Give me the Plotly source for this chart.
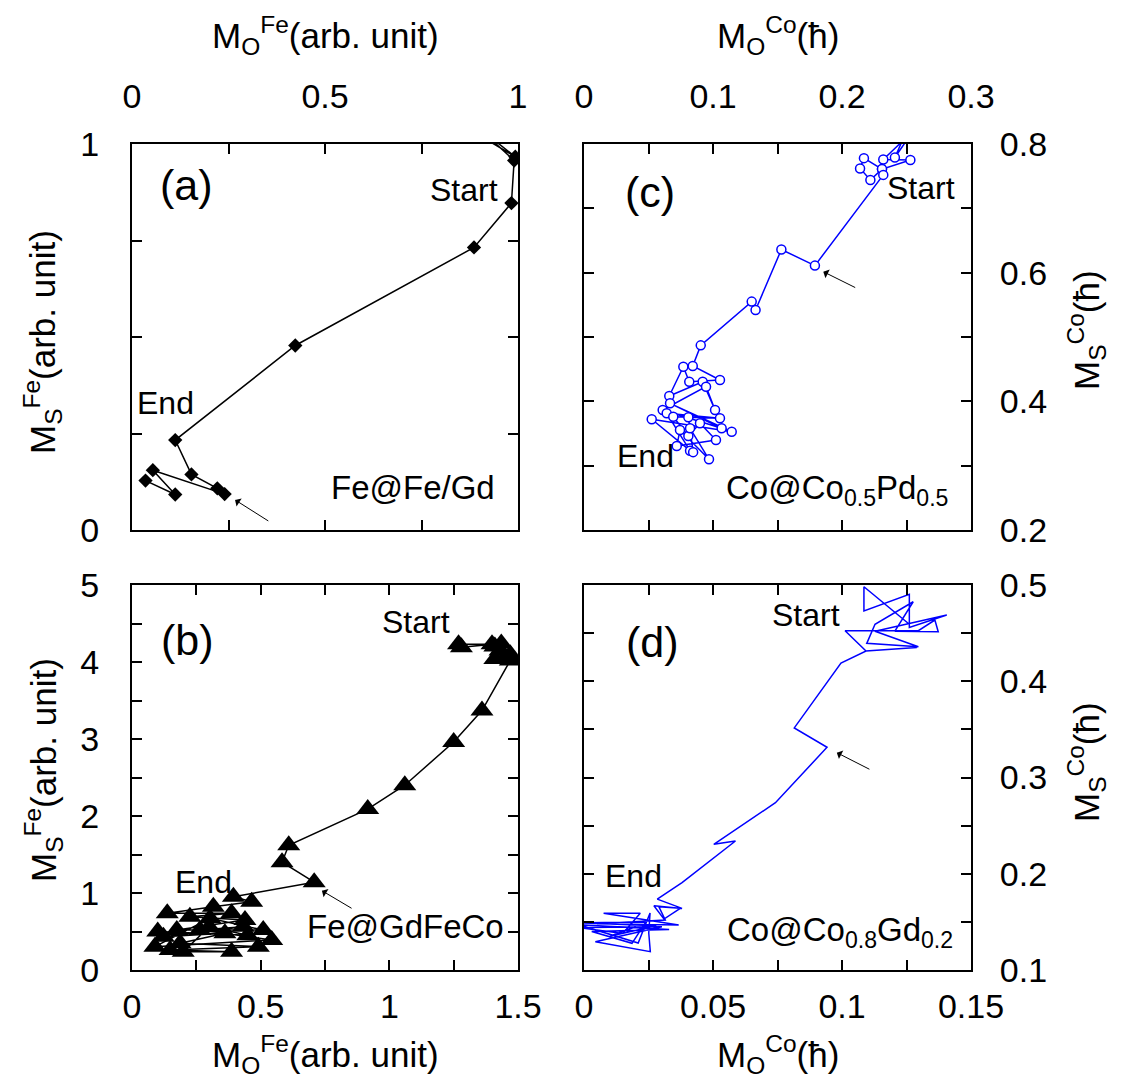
import plotly.graph_objects as go

# ---------------- data ----------------
# (a) Fe@Fe/Gd : M_O^Fe vs M_S^Fe (diamonds)
a_x = [0.87, 0.993, 0.90, 0.990, 0.983, 0.886, 0.423, 0.112, 0.154, 0.221, 0.240, 0.054, 0.112, 0.035]
a_y = [1.04, 0.967, 1.04, 0.957, 0.847, 0.732, 0.478, 0.233, 0.144, 0.108, 0.093, 0.155, 0.092, 0.128]

# (b) Fe@GdFeCo (triangles)
b_x = [1.269, 1.399, 1.28, 1.435, 1.47, 1.41, 1.45, 1.43, 1.48, 1.41, 1.47,
       1.36, 1.25, 1.06, 0.916, 0.609, 0.583, 0.708,
       0.394, 0.465, 0.316, 0.137, 0.387, 0.225, 0.439, 0.174, 0.510, 0.303,
       0.089, 0.543, 0.264, 0.432, 0.122, 0.361, 0.187, 0.491, 0.148, 0.387,
       0.199, 0.30, 0.45, 0.10]
b_y = [4.23, 4.23, 4.19, 4.24, 4.10, 4.20, 4.06, 4.15, 4.03, 4.04, 4.02,
       3.37, 2.96, 2.40, 2.09, 1.62, 1.40, 1.14,
       0.952, 0.887, 0.822, 0.736, 0.736, 0.692, 0.649, 0.519, 0.519, 0.671,
       0.303, 0.390, 0.519, 0.562, 0.432, 0.477, 0.347, 0.303, 0.260, 0.238,
       0.238, 0.56, 0.45, 0.50]

# (c) Co@Co0.5Pd0.5 (open circles)
c_x = [0.250, 0.241, 0.255, 0.232, 0.253, 0.231, 0.217, 0.214, 0.222, 0.231, 0.232,
       0.179, 0.153, 0.133, 0.130, 0.0905,
       0.0843, 0.1054, 0.0816, 0.0770, 0.0661, 0.0920, 0.1016, 0.0946, 0.0610,
       0.1067, 0.0667, 0.1145, 0.0525, 0.0822, 0.0641, 0.1054, 0.0692, 0.0809,
       0.0899, 0.1023, 0.0719, 0.0744, 0.0969, 0.0822, 0.0809, 0.0846]
c_y = [0.82, 0.779, 0.82, 0.776, 0.775, 0.761, 0.778, 0.762, 0.744, 0.761, 0.752,
       0.611, 0.636, 0.542, 0.555, 0.487,
       0.4549, 0.4332, 0.4305, 0.4538, 0.4083, 0.4305, 0.3865, 0.4228, 0.3865,
       0.3581, 0.3969, 0.3528, 0.3721, 0.3233, 0.3814, 0.3736, 0.3761, 0.3461,
       0.3659, 0.3399, 0.3306, 0.3554, 0.3099, 0.3581, 0.3752, 0.3210]

# (d) Co@Co0.8Gd0.2 (line only)
d_x = [0.1261, 0.1085, 0.1085, 0.1261, 0.1261, 0.1406, 0.1128, 0.1296, 0.1096, 0.1128,
       0.1276, 0.1205, 0.1373, 0.1360, 0.1296, 0.1012, 0.1093, 0.1290, 0.1093,
       0.0996, 0.0815, 0.0942, 0.0742, 0.0503, 0.0587, 0.0380, 0.0284, 0.0380, 0.0271, 0.0310,
       0.0373, 0.0290, 0.0315, 0.0050, 0.0367, 0.0076, 0.0218, 0.0150, -0.002, 0.0302,
       0.0044, 0.0257, 0.0251, 0.0256, 0.0210, -0.002, 0.0330, 0.0030, 0.0186, 0.0240,
       -0.002, 0.0280, 0.0100, 0.0200]
d_y = [0.4592, 0.4982, 0.4730, 0.4903, 0.4560, 0.4688, 0.4520, 0.4359, 0.4394, 0.4592,
       0.4826, 0.4520, 0.4515, 0.4636, 0.4525, 0.4525, 0.4314, 0.4350, 0.4314,
       0.4188, 0.3515, 0.3314, 0.2738, 0.2306, 0.2340, 0.1908, 0.1736, 0.1640, 0.1667, 0.1529,
       0.1641, 0.1658, 0.1520, 0.1480, 0.1468, 0.1589, 0.1589, 0.1380, 0.1440, 0.1450,
       0.1294, 0.1190, 0.1384, 0.1592, 0.1280, 0.1470, 0.1420, 0.1400, 0.1277, 0.1500,
       0.1490, 0.1460, 0.1350, 0.1450]

# tick values / labels
a_xtv = [0, 0.25, 0.5, 0.75, 1]; a_xtt = ['0', '', '0.5', '', '1']
a_ytv = [0, 0.25, 0.5, 0.75, 1]; a_ytt = ['0', '', '', '', '1']
b_xtv = [0, 0.25, 0.5, 0.75, 1, 1.25, 1.5]; b_xtt = ['0', '', '0.5', '', '1', '', '1.5']
b_ytv = [0, 0.5, 1, 1.5, 2, 2.5, 3, 3.5, 4, 4.5, 5]
b_ytt = ['0', '', '1', '', '2', '', '3', '', '4', '', '5']
c_xtv = [0, 0.05, 0.1, 0.15, 0.2, 0.25, 0.3]; c_xtt = ['0', '', '0.1', '', '0.2', '', '0.3']
c_ytv = [0.2, 0.3, 0.4, 0.5, 0.6, 0.7, 0.8]; c_ytt = ['0.2', '', '0.4', '', '0.6', '', '0.8']
d_xtv = [0, 0.025, 0.05, 0.075, 0.1, 0.125, 0.15]; d_xtt = ['0', '', '0.05', '', '0.1', '', '0.15']
d_ytv = [0.1, 0.15, 0.2, 0.25, 0.3, 0.35, 0.4, 0.45, 0.5]
d_ytt = ['0.1', '', '0.2', '', '0.3', '', '0.4', '', '0.5']

# ---------------- figure ----------------
W, H = 1123, 1087
L, R, T, B = 132, 152, 144, 117
PW, PH = W - L - R, H - T - B

def px(x):
    return (x - L) / PW

def py(y):
    return (H - B - y) / PH

BLUE = '#0000ff'
FONT = 'Arial, Liberation Sans, sans-serif'

fig = go.Figure()
fig.add_trace(go.Scatter(x=a_x, y=a_y, mode='lines+markers', xaxis='x', yaxis='y',
                         line=dict(color='black', width=1.5),
                         marker=dict(symbol='diamond', size=11, color='black')))
fig.add_trace(go.Scatter(x=b_x, y=b_y, mode='lines+markers', xaxis='x2', yaxis='y2',
                         line=dict(color='black', width=1.5),
                         marker=dict(symbol='triangle-up', size=20, color='black')))
fig.add_trace(go.Scatter(x=c_x, y=c_y, mode='lines+markers', xaxis='x3', yaxis='y3',
                         line=dict(color=BLUE, width=1.5),
                         marker=dict(symbol='circle', size=9, color='white',
                                     line=dict(color=BLUE, width=1.5))))
fig.add_trace(go.Scatter(x=d_x, y=d_y, mode='lines', xaxis='x4', yaxis='y4',
                         line=dict(color=BLUE, width=1.5)))

xa_dom = [0, px(518)]
xc_dom = [px(584), 1]
ya_dom = [py(530), 1]
yb_dom = [0, py(585)]

def ax(rng, tv, tt, dom, side, anchor, standoff):
    return dict(range=rng, domain=dom, side=side, anchor=anchor,
                tickmode='array', tickvals=tv, ticktext=tt,
                ticks='inside', ticklen=10, tickwidth=1.5, tickcolor='black',
                showline=True, linecolor='black', linewidth=2, mirror='ticks',
                showgrid=False, zeroline=False,
                ticklabelstandoff=standoff,
                tickfont=dict(family=FONT, size=34, color='black'))

fig.update_layout(
    width=W, height=H, margin=dict(l=L, r=R, t=T, b=B),
    paper_bgcolor='white', plot_bgcolor='white', showlegend=False,
    xaxis=ax([0, 1], a_xtv, a_xtt, xa_dom, 'top', 'y', 20),
    yaxis=ax([0, 1], a_ytv, a_ytt, ya_dom, 'left', 'x', 24),
    xaxis2=ax([0, 1.5], b_xtv, b_xtt, xa_dom, 'bottom', 'y2', 5),
    yaxis2=ax([0, 5], b_ytv, b_ytt, yb_dom, 'left', 'x2', 24),
    xaxis3=ax([0, 0.3], c_xtv, c_xtt, xc_dom, 'top', 'y3', 20),
    yaxis3=ax([0.2, 0.8], c_ytv, c_ytt, ya_dom, 'right', 'x3', 20),
    xaxis4=ax([0, 0.15], d_xtv, d_xtt, xc_dom, 'bottom', 'y4', 5),
    yaxis4=ax([0.1, 0.5], d_ytv, d_ytt, yb_dom, 'right', 'x4', 20),
)

ann = []

def txt(x, y, s, xr, yr, size=32):
    ann.append(dict(x=x, y=y, xref=xr, yref=yr, text=s, showarrow=False,
                    font=dict(family=FONT, size=size, color='black'),
                    xanchor='center', yanchor='middle'))

def arrow(x, y, axv, ayv, xr, yr):
    ann.append(dict(x=x, y=y, ax=axv, ay=ayv, xref=xr, yref=yr, axref=xr, ayref=yr,
                    text='', showarrow=True, arrowhead=1, arrowsize=1.6,
                    arrowwidth=1, arrowcolor='black'))

# panel texts
txt(0.142, 0.895, '(a)', 'x', 'y', 43)
txt(0.860, 0.881, 'Start', 'x', 'y')
txt(0.088, 0.329, 'End', 'x', 'y')
txt(0.728, 0.111, 'Fe@Fe/Gd', 'x', 'y', 33)
arrow(0.267, 0.078, 0.357, 0.021, 'x', 'y')

txt(0.215, 4.29, '(b)', 'x2', 'y2', 43)
txt(1.105, 4.52, 'Start', 'x2', 'y2')
txt(0.276, 1.143, 'End', 'x2', 'y2')
txt(1.061, 0.571, 'Fe@GdFeCo', 'x2', 'y2', 33)
arrow(0.738, 1.03, 0.859, 0.79, 'x2', 'y2')

txt(0.051, 0.725, '(c)', 'x3', 'y3', 43)
txt(0.261, 0.7316, 'Start', 'x3', 'y3')
txt(0.0473, 0.315, 'End', 'x3', 'y3')
txt(0.196, 0.262, 'Co@Co<sub>0.5</sub>Pd<sub>0.5</sub>', 'x3', 'y3', 33)
arrow(0.1855, 0.6015, 0.2114, 0.5757, 'x3', 'y3')

txt(0.0264, 0.4408, '(d)', 'x4', 'y4', 43)
txt(0.086, 0.4688, 'Start', 'x4', 'y4')
txt(0.019, 0.1977, 'End', 'x4', 'y4')
txt(0.0992, 0.140, 'Co@Co<sub>0.8</sub>Gd<sub>0.2</sub>', 'x4', 'y4', 33)
arrow(0.098, 0.3258, 0.1112, 0.3078, 'x4', 'y4')

# axis titles
t_fe_o = 'M<sub>O</sub><sup>Fe</sup>(arb. unit)'
t_co_o = 'M<sub>O</sub><sup>Co</sup>(ħ)'
t_fe_s = 'M<sub>S</sub><sup>Fe</sup>(arb. unit)'
t_co_s = 'M<sub>S</sub><sup>Co</sup>(ħ)'

def title(x, y, s, angle=0):
    ann.append(dict(x=px(x), y=py(y), xref='paper', yref='paper', text=s, showarrow=False,
                    textangle=angle, font=dict(family=FONT, size=35, color='black'),
                    xanchor='center', yanchor='middle'))

title(325, 36, t_fe_o)
title(778, 36, t_co_o)
title(325, 1054, t_fe_o)
title(778, 1054, t_co_o)
title(43, 342, t_fe_s, -90)
title(43, 770, t_fe_s, -90)
title(1086, 330, t_co_s, -90)
title(1086, 762, t_co_s, -90)

fig.update_layout(annotations=ann)
fig.write_html('out.html')
